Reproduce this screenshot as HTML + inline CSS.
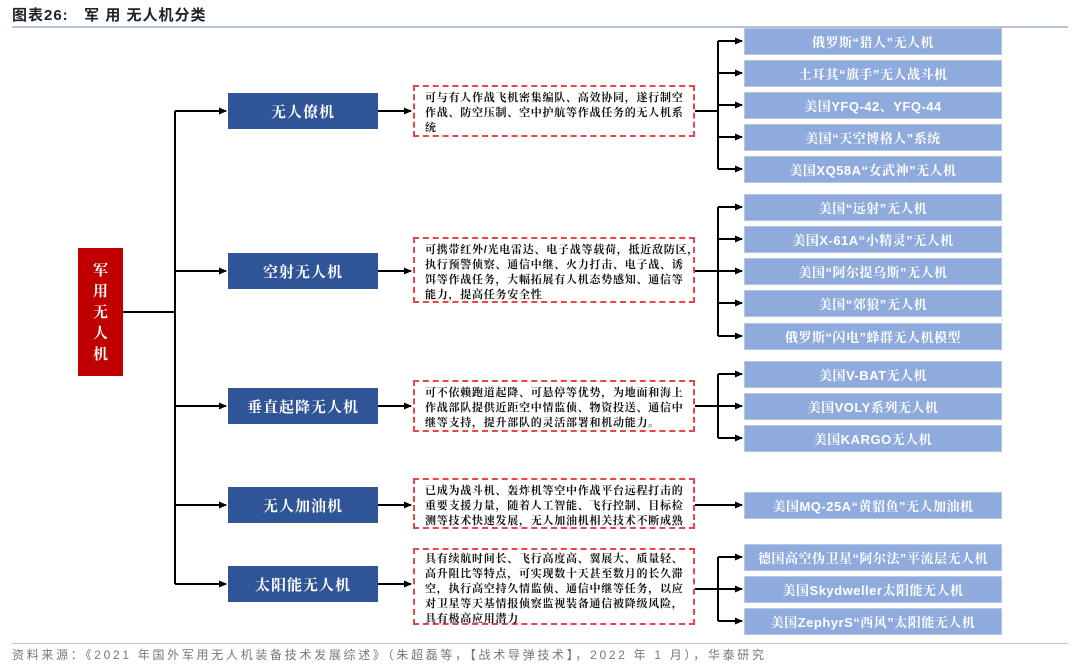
<!DOCTYPE html>
<html><head><meta charset="utf-8"><style>
body{margin:0;width:1080px;height:667px;background:#fff;position:relative;overflow:hidden;font-family:"Liberation Sans","Noto Sans CJK SC",sans-serif}
.a{position:absolute;box-sizing:border-box}
.cat{background:#2F5597;color:#fff;font-size:15px;font-weight:bold;display:flex;align-items:center;justify-content:center;letter-spacing:1px;font-family:"Liberation Sans","Noto Serif CJK SC",serif}
.r{background:#8FAADC;color:#fff;font-size:13px;font-weight:bold;display:flex;align-items:center;justify-content:center;height:27px;left:744px;width:258px;font-family:"Liberation Sans","Noto Serif CJK SC",serif;border:1px solid #b4c7e7;letter-spacing:0.5px}
.t{border:2px dashed #E8464C;left:413px;width:282px;font-size:11px;line-height:15px;padding:4px 0 0 10px;font-weight:bold;color:#111;font-family:"Liberation Sans","Noto Serif CJK SC",serif;letter-spacing:0.75px;white-space:nowrap;background:#fff}
</style></head><body>
<div class="a" style="left:12px;top:4px;font-size:15px;font-weight:bold;color:#222;letter-spacing:1px">图表26:&nbsp;&nbsp; 军 用 无人机分类</div>
<div class="a" style="left:12px;top:26px;width:1056px;height:2px;background:#b4c3d6"></div>
<svg class="a" style="left:0;top:0" width="1080" height="667">
<defs><marker id="m" markerWidth="8" markerHeight="8" refX="7" refY="4" orient="auto" markerUnits="userSpaceOnUse"><path d="M0,0.5 L8,4 L0,7.5z" fill="#000"/></marker></defs>
<g stroke="#000" stroke-width="2" fill="none">
<line x1="123" y1="312" x2="175" y2="312"/>
<line x1="175" y1="111" x2="175" y2="584"/>
<line x1="175" y1="111" x2="226" y2="111" marker-end="url(#m)"/>
<line x1="175" y1="271" x2="226" y2="271" marker-end="url(#m)"/>
<line x1="175" y1="406" x2="226" y2="406" marker-end="url(#m)"/>
<line x1="175" y1="505" x2="226" y2="505" marker-end="url(#m)"/>
<line x1="175" y1="584" x2="226" y2="584" marker-end="url(#m)"/>
<line x1="378" y1="111" x2="411" y2="111" marker-end="url(#m)"/>
<line x1="378" y1="271" x2="411" y2="271" marker-end="url(#m)"/>
<line x1="378" y1="406" x2="411" y2="406" marker-end="url(#m)"/>
<line x1="378" y1="505" x2="411" y2="505" marker-end="url(#m)"/>
<line x1="378" y1="584" x2="411" y2="584" marker-end="url(#m)"/>
<line x1="695" y1="111" x2="718" y2="111"/><line x1="718" y1="41" x2="718" y2="169"/>
<line x1="718" y1="41" x2="742" y2="41" marker-end="url(#m)"/><line x1="718" y1="73" x2="742" y2="73" marker-end="url(#m)"/><line x1="718" y1="105" x2="742" y2="105" marker-end="url(#m)"/><line x1="718" y1="137" x2="742" y2="137" marker-end="url(#m)"/><line x1="718" y1="169" x2="742" y2="169" marker-end="url(#m)"/>
<line x1="695" y1="271" x2="718" y2="271"/><line x1="718" y1="207" x2="718" y2="336"/>
<line x1="718" y1="207" x2="742" y2="207" marker-end="url(#m)"/><line x1="718" y1="239" x2="742" y2="239" marker-end="url(#m)"/><line x1="718" y1="271" x2="742" y2="271" marker-end="url(#m)"/><line x1="718" y1="303" x2="742" y2="303" marker-end="url(#m)"/><line x1="718" y1="336" x2="742" y2="336" marker-end="url(#m)"/>
<line x1="695" y1="406" x2="718" y2="406"/><line x1="718" y1="374" x2="718" y2="438"/>
<line x1="718" y1="374" x2="742" y2="374" marker-end="url(#m)"/><line x1="718" y1="406" x2="742" y2="406" marker-end="url(#m)"/><line x1="718" y1="438" x2="742" y2="438" marker-end="url(#m)"/>
<line x1="695" y1="505" x2="742" y2="505" marker-end="url(#m)"/>
<line x1="695" y1="589" x2="718" y2="589"/><line x1="718" y1="557" x2="718" y2="621"/>
<line x1="718" y1="557" x2="742" y2="557" marker-end="url(#m)"/><line x1="718" y1="589" x2="742" y2="589" marker-end="url(#m)"/><line x1="718" y1="621" x2="742" y2="621" marker-end="url(#m)"/>
</g></svg>
<div class="a" style="left:78px;top:248px;width:45px;height:128px;background:#C00000;color:#fff;font-size:15px;font-weight:bold;display:flex;align-items:center;justify-content:center;line-height:21px;text-align:center;font-family:'Liberation Sans','Noto Serif CJK SC',serif">军<br>用<br>无<br>人<br>机</div>
<div class="a cat" style="left:228px;top:93px;width:150px;height:36px">无人僚机</div>
<div class="a cat" style="left:228px;top:253px;width:150px;height:36px">空射无人机</div>
<div class="a cat" style="left:228px;top:388px;width:150px;height:36px">垂直起降无人机</div>
<div class="a cat" style="left:228px;top:487px;width:150px;height:36px">无人加油机</div>
<div class="a cat" style="left:228px;top:566px;width:150px;height:36px">太阳能无人机</div>
<div class="a t" style="top:85px;height:52px">可与有人作战飞机密集编队、高效协同，遂行制空<br>作战、防空压制、空中护航等作战任务的无人机系<br>统</div>
<div class="a t" style="top:237px;height:66px">可携带红外/光电雷达、电子战等载荷，抵近敌防区，<br>执行预警侦察、通信中继、火力打击、电子战、诱<br>饵等作战任务，大幅拓展有人机态势感知、通信等<br>能力，提高任务安全性</div>
<div class="a t" style="top:380px;height:52px">可不依赖跑道起降、可悬停等优势，为地面和海上<br>作战部队提供近距空中情监侦、物资投送、通信中<br>继等支持，提升部队的灵活部署和机动能力。</div>
<div class="a t" style="top:478px;height:51px">已成为战斗机、轰炸机等空中作战平台远程打击的<br>重要支援力量，随着人工智能、飞行控制、目标检<br>测等技术快速发展，无人加油机相关技术不断成熟</div>
<div class="a t" style="top:548px;height:77px;padding-top:2px">具有续航时间长、飞行高度高、翼展大、质量轻、<br>高升阻比等特点，可实现数十天甚至数月的长久滞<br>空，执行高空持久情监侦、通信中继等任务，以应<br>对卫星等天基情报侦察监视装备通信被降级风险，<br>具有极高应用潜力</div>
<div class="a r" style="top:28px">俄罗斯“猎人”无人机</div>
<div class="a r" style="top:60px">土耳其“旗手”无人战斗机</div>
<div class="a r" style="top:92px">美国YFQ-42、YFQ-44</div>
<div class="a r" style="top:124px">美国“天空博格人”系统</div>
<div class="a r" style="top:156px">美国XQ58A“女武神”无人机</div>
<div class="a r" style="top:194px">美国“远射”无人机</div>
<div class="a r" style="top:226px">美国X-61A“小精灵”无人机</div>
<div class="a r" style="top:258px">美国“阿尔提乌斯”无人机</div>
<div class="a r" style="top:290px">美国“郊狼”无人机</div>
<div class="a r" style="top:323px">俄罗斯“闪电”蜂群无人机模型</div>
<div class="a r" style="top:361px">美国V-BAT无人机</div>
<div class="a r" style="top:393px">美国VOLY系列无人机</div>
<div class="a r" style="top:425px">美国KARGO无人机</div>
<div class="a r" style="top:492px">美国MQ-25A“黄貂鱼”无人加油机</div>
<div class="a r" style="top:544px">德国高空伪卫星“阿尔法”平流层无人机</div>
<div class="a r" style="top:576px">美国Skydweller太阳能无人机</div>
<div class="a r" style="top:608px">美国ZephyrS“西风”太阳能无人机</div>
<div class="a" style="left:12px;top:643px;width:1056px;height:1px;background:#b4c3d6"></div>
<div class="a" style="left:12px;top:646px;font-size:12px;color:#777;white-space:nowrap;letter-spacing:2.7px">资料来源：《2021 年国外军用无人机装备技术发展综述》（朱超磊等，【战术导弹技术】，2022 年 1 月），华泰研究</div>
</body></html>
